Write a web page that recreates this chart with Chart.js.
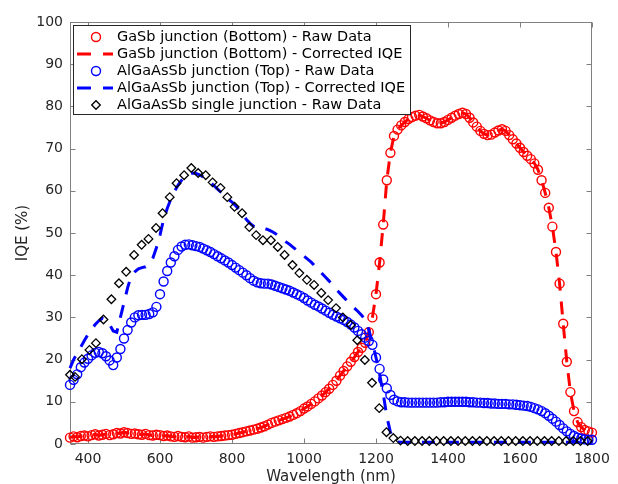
<!DOCTYPE html>
<html>
<head>
<meta charset="utf-8">
<script src="https://cdn.jsdelivr.net/npm/chart.js@4.4.1/dist/chart.umd.min.js"></script>
<style>
  html, body { margin: 0; padding: 0; background: #ffffff; }
  canvas { display: block; }
</style>
</head>
<body>
<canvas id="c" width="618" height="484"></canvas>
<script>
// ---- data ----
const wavelength = [
  350,360,370,380,390,400,410,420,430,440,
  450,460,470,480,490,500,510,520,530,540,
  550,560,570,580,590,600,610,620,630,640,
  650,660,670,680,690,700,710,720,730,740,
  750,760,770,780,790,800,810,820,830,840,
  850,860,870,880,890,900,910,920,930,940,
  950,960,970,980,990,1000,1010,1020,1030,1040,
  1050,1060,1070,1080,1090,1100,1110,1120,1130,1140,
  1150,1160,1170,1180,1190,1200,1210,1220,1230,1240,
  1250,1260,1270,1280,1290,1300,1310,1320,1330,1340,
  1350,1360,1370,1380,1390,1400,1410,1420,1430,1440,
  1450,1460,1470,1480,1490,1500,1510,1520,1530,1540,
  1550,1560,1570,1580,1590,1600,1610,1620,1630,1640,
  1650,1660,1670,1680,1690,1700,1710,1720,1730,1740,
  1750,1760,1770,1780,1790,1800
];

const gasbRaw = [
  1.5,1.8,1.6,1.9,2.0,1.8,2.1,2.3,2.0,2.2,
  2.4,2.1,2.3,2.6,2.5,2.8,2.6,2.4,2.5,2.3,
  2.2,2.4,2.1,2.0,2.2,2.1,1.9,2.0,1.8,1.7,
  1.9,1.7,1.6,1.8,1.5,1.6,1.7,1.5,1.7,1.8,
  1.7,1.8,1.9,2.0,2.1,2.2,2.4,2.6,2.8,3.0,
  3.2,3.4,3.6,3.9,4.2,4.6,5.0,5.3,5.6,5.9,
  6.2,6.5,6.9,7.3,7.8,8.4,8.9,9.5,10.1,10.8,
  11.5,12.3,13.1,14.0,15.0,16.2,17.3,18.4,19.5,20.6,
  21.8,22.8,24.0,26.5,30.0,35.5,43.0,52.0,62.5,69.0,
  73.0,74.5,75.5,76.3,77.0,77.5,77.8,78.0,77.6,77.2,
  76.7,76.3,76.0,76.0,76.3,76.8,77.3,77.8,78.2,78.5,
  78.2,77.3,76.2,75.2,74.2,73.5,73.2,73.3,73.8,74.3,
  74.6,74.2,73.2,72.2,71.2,70.2,69.2,68.3,67.5,66.5,
  65.0,62.5,59.5,56.0,51.5,45.5,38.0,28.5,19.5,12.3,
  7.8,5.2,4.0,3.3,3.0,2.7
];

const gasbCorrected = [
  1.5,1.8,1.6,1.9,2.0,1.8,2.1,2.3,2.0,2.2,
  2.4,2.1,2.3,2.6,2.5,2.8,2.6,2.4,2.5,2.3,
  2.2,2.4,2.1,2.0,2.2,2.1,1.9,2.0,1.8,1.7,
  1.9,1.7,1.6,1.8,1.5,1.6,1.7,1.5,1.7,1.8,
  1.7,1.8,1.9,2.0,2.1,2.2,2.4,2.6,2.8,3.0,
  3.2,3.4,3.6,3.9,4.2,4.6,5.0,5.3,5.6,5.9,
  6.2,6.5,6.9,7.3,7.8,8.4,8.9,9.5,10.1,10.8,
  11.5,12.3,13.1,14.0,15.0,16.2,17.3,18.4,19.5,20.6,
  21.8,22.8,24.0,26.5,30.0,35.5,43.0,52.0,62.5,69.0,
  73.0,74.5,75.5,76.3,77.0,77.5,77.8,78.0,77.6,77.2,
  76.7,76.3,76.0,76.0,76.3,76.8,77.3,77.8,78.2,78.5,
  78.2,77.3,76.2,75.2,74.2,73.5,73.2,73.3,73.8,74.3,
  74.6,74.2,73.2,72.2,71.2,70.2,69.2,68.3,67.5,66.5,
  65.0,62.5,59.5,56.0,51.5,45.5,38.0,28.5,19.5,12.3,
  7.8,5.2,4.0,3.3,3.0,2.7
];

const algaassbRaw = [
  14.0,15.2,16.5,18.2,19.3,20.2,21.0,21.6,21.8,21.5,
  20.8,19.8,18.7,20.5,22.5,25.0,27.0,28.8,30.0,30.5,
  30.6,30.6,30.8,31.2,32.5,35.5,38.5,41.0,43.0,44.5,
  46.0,46.8,47.2,47.3,47.1,46.9,46.7,46.3,45.9,45.5,
  45.0,44.5,44.0,43.5,43.0,42.4,41.8,41.2,40.6,40.0,
  39.3,38.7,38.3,38.1,38.0,38.0,37.8,37.5,37.2,36.9,
  36.6,36.3,35.9,35.5,35.1,34.6,34.0,33.5,33.0,32.6,
  32.1,31.6,31.1,30.6,30.2,29.8,29.4,28.9,28.3,27.6,
  26.8,26.0,25.2,24.4,23.5,20.5,17.8,15.3,13.2,11.6,
  10.5,10.1,9.9,9.9,9.8,9.8,9.8,9.8,9.8,9.8,
  9.8,9.8,9.8,9.9,9.9,10.0,10.0,10.0,10.0,10.0,
  10.0,9.9,9.9,9.8,9.8,9.7,9.7,9.6,9.6,9.5,
  9.5,9.5,9.4,9.4,9.3,9.2,9.1,9.0,8.8,8.5,
  8.2,7.8,7.3,6.7,6.0,5.3,4.5,3.7,3.0,2.4,
  1.9,1.5,1.3,1.1,1.0,1.0
];

const algaassbCorrected = [
  18.0,20.0,21.5,23.0,24.5,26.0,27.2,28.3,29.2,29.8,
  29.5,28.3,26.8,26.5,30.0,33.5,37.0,39.8,40.8,41.5,
  41.8,42.0,42.5,44.0,46.5,49.5,53.2,55.8,58.0,59.8,
  61.3,62.5,63.5,64.0,64.2,64.1,63.8,63.3,62.7,62.0,
  61.2,60.4,59.6,58.8,58.0,57.3,56.5,55.5,54.3,53.2,
  52.3,51.6,51.4,51.3,51.1,50.8,50.4,49.9,49.3,48.7,
  47.9,47.3,46.6,45.9,45.2,44.5,43.8,43.1,42.2,41.3,
  40.4,39.5,38.6,37.6,36.6,35.7,34.8,33.9,33.0,32.2,
  31.4,30.5,29.4,27.0,24.0,20.5,16.5,12.0,6.5,2.8,
  1.2,0.5,0.4,0.4,0.4,0.4,0.4,0.4,0.4,0.4,
  0.4,0.4,0.4,0.4,0.4,0.4,0.4,0.4,0.4,0.4,
  0.4,0.4,0.4,0.4,0.4,0.4,0.4,0.4,0.4,0.4,
  0.4,0.4,0.4,0.4,0.4,0.4,0.4,0.4,0.4,0.4,
  0.4,0.4,0.4,0.4,0.4,0.4,0.4,0.4,0.4,0.4,
  0.4,0.4,0.4,0.4,0.4,0.4
];

const singleWavelength = [
  350,364,383,404,422,443,465,486,506,528,
  549,568,589,607,627,646,667,687,706,727,
  746,768,787,807,828,848,867,886,908,927,
  946,968,987,1008,1028,1048,1067,1089,1108,1130,
  1148,1169,1189,1209,1229,1248,1268,1288,1308,1328,
  1348,1368,1388,1408,1428,1448,1468,1488,1508,1528,
  1548,1568,1588,1608,1628,1648,1668,1688,1708,1728,
  1748,1768,1788
];
const singleRaw = [
  16.4,15.9,20.1,22.3,23.9,29.5,34.3,38.1,40.8,44.8,
  47.2,48.6,51.2,54.7,58.5,61.8,63.7,65.4,64.2,63.7,
  62.0,60.7,58.5,56.2,54.7,51.4,49.5,48.3,48.3,46.7,
  44.8,42.4,40.5,38.9,37.7,35.8,34.1,32.2,30.0,28.2,
  24.6,19.9,14.5,8.5,2.8,1.4,0.8,0.7,0.7,0.7,
  0.7,0.7,0.7,0.7,0.7,0.7,0.7,0.7,0.7,0.7,
  0.7,0.7,0.7,0.7,0.7,0.7,0.7,0.7,0.7,0.7,
  0.7,0.7,0.7
];

const xTickValues = [400, 600, 800, 1000, 1200, 1400, 1600, 1800];
const yTickValues = [0, 10, 20, 30, 40, 50, 60, 70, 80, 90, 100];

const seriesLabels = [
  'GaSb junction (Bottom) - Raw Data',
  'GaSb junction (Bottom) - Corrected IQE',
  'AlGaAsSb junction (Top) - Raw Data',
  'AlGaAsSb junction (Top) - Corrected IQE',
  'AlGaAsSb single junction - Raw Data'
];

// ---- build ----
const pts = (xs, ys) => xs.map((x, i) => ({ x: x, y: ys[i] }));
const FONT = "'DejaVu Sans', sans-serif";
const DASH = [13, 11];

const datasets = [
  { label: seriesLabels[0], data: pts(wavelength, gasbRaw), showLine: false,
    pointStyle: 'circle', pointRadius: 4.5, pointBorderWidth: 1.4,
    borderColor: '#ff0000', backgroundColor: 'rgba(0,0,0,0)', order: 5, kind: 'marker' },
  { label: seriesLabels[1], data: pts(wavelength, gasbCorrected), showLine: true,
    pointRadius: 0, borderColor: '#ff0000', borderWidth: 3, borderDash: DASH,
    fill: false, order: 4, kind: 'line' },
  { label: seriesLabels[2], data: pts(wavelength, algaassbRaw), showLine: false,
    pointStyle: 'circle', pointRadius: 4.5, pointBorderWidth: 1.4,
    borderColor: '#0000ff', backgroundColor: 'rgba(0,0,0,0)', order: 3, kind: 'marker' },
  { label: seriesLabels[3], data: pts(wavelength, algaassbCorrected), showLine: true,
    pointRadius: 0, borderColor: '#0000ff', borderWidth: 3, borderDash: DASH,
    fill: false, order: 2, kind: 'line' },
  { label: seriesLabels[4], data: pts(singleWavelength, singleRaw), showLine: false,
    pointStyle: 'rectRot', pointRadius: 4.3, pointBorderWidth: 1.3,
    borderColor: '#000000', backgroundColor: 'rgba(0,0,0,0)', order: 1, kind: 'diamond' }
];
datasets.forEach(d => { d.clip = false; d.pointHoverRadius = d.pointRadius; d.tension = 0; });

const AXIS_COLOR = '#808080';
const TICK_LEN = 5;

const boxPlugin = {
  id: 'matlabBox',
  beforeDatasetsDraw(chart) {
    const { ctx, chartArea: a, scales } = chart;
    ctx.save();
    ctx.strokeStyle = AXIS_COLOR;
    ctx.lineWidth = 1;
    const L = Math.round(a.left) + 0.5, R = Math.round(a.right) - 0.5;
    const T = Math.round(a.top) + 0.5, B = Math.round(a.bottom) - 0.5;
    ctx.strokeRect(L, T, R - L, B - T);
    ctx.beginPath();
    xTickValues.forEach(v => {
      const x = Math.round(scales.x.getPixelForValue(v)) + 0.5;
      ctx.moveTo(x, B); ctx.lineTo(x, B - TICK_LEN);
      ctx.moveTo(x, T); ctx.lineTo(x, T + TICK_LEN);
    });
    yTickValues.forEach(v => {
      const y = Math.round(scales.y.getPixelForValue(v)) + 0.5;
      ctx.moveTo(L, y); ctx.lineTo(L + TICK_LEN, y);
      ctx.moveTo(R, y); ctx.lineTo(R - TICK_LEN, y);
    });
    ctx.stroke();
    ctx.restore();
  }
};

const legendPlugin = {
  id: 'insideLegend',
  afterDraw(chart) {
    const { ctx } = chart;
    const bx = 73.5, by = 25.5, bw = 337, bh = 89;
    ctx.save();
    ctx.fillStyle = '#ffffff';
    ctx.fillRect(bx, by, bw, bh);
    ctx.strokeStyle = '#262626';
    ctx.lineWidth = 1;
    ctx.strokeRect(bx, by, bw, bh);
    const rowY = [37, 54, 71, 88, 105];
    chart.data.datasets.forEach((d, i) => {
      const y = rowY[i];
      if (d.kind === 'line') {
        ctx.save();
        ctx.strokeStyle = d.borderColor;
        ctx.lineWidth = 3;
        ctx.setLineDash([14, 12]);
        ctx.beginPath();
        ctx.moveTo(77, y); ctx.lineTo(113, y);
        ctx.stroke();
        ctx.restore();
      } else {
        ctx.save();
        ctx.strokeStyle = d.borderColor;
        ctx.fillStyle = 'rgba(0,0,0,0)';
        ctx.lineWidth = d.pointBorderWidth;
        Chart.helpers.drawPoint(ctx, { pointStyle: d.pointStyle, radius: d.pointRadius, borderWidth: d.pointBorderWidth, rotation: 0 }, 96, y);
        ctx.restore();
      }
      ctx.fillStyle = '#000000';
      ctx.font = "14.5px " + FONT;
      ctx.textBaseline = 'middle';
      ctx.textAlign = 'left';
      ctx.fillText(d.label, 117, y + 0.5);
    });
    ctx.restore();
  }
};

new Chart(document.getElementById('c').getContext('2d'), {
  type: 'scatter',
  data: { datasets: datasets },
  options: {
    responsive: false,
    animation: false,
    events: [],
    layout: { padding: { top: 22, right: 26, left: 0, bottom: 0 } },
    plugins: { legend: { display: false }, tooltip: { enabled: false } },
    scales: {
      x: {
        type: 'linear', min: 350, max: 1800,
        afterBuildTicks: s => { s.ticks = xTickValues.map(v => ({ value: v })); },
        afterFit: s => { s.height = 40; },
        grid: { display: false, drawTicks: false },
        border: { display: false },
        ticks: { color: '#262626', font: { family: FONT, size: 14 }, padding: 7, maxRotation: 0, autoSkip: false,
                 callback: v => String(v) },
        title: { display: true, text: 'Wavelength (nm)', color: '#262626',
                 font: { family: FONT, size: 15 }, padding: { top: 0, bottom: -2 } }
      },
      y: {
        type: 'linear', min: 0, max: 100,
        afterBuildTicks: s => { s.ticks = yTickValues.map(v => ({ value: v })); },
        afterFit: s => { s.width = 70; },
        grid: { display: false, drawTicks: false },
        border: { display: false },
        ticks: { color: '#262626', font: { family: FONT, size: 14 }, padding: 7, autoSkip: false,
                 callback: v => String(v) },
        title: { display: true, text: 'IQE (%)', color: '#262626',
                 font: { family: FONT, size: 15 }, padding: { top: 14, bottom: 0 } }
      }
    }
  },
  plugins: [boxPlugin, legendPlugin]
});
</script>
</body>
</html>
